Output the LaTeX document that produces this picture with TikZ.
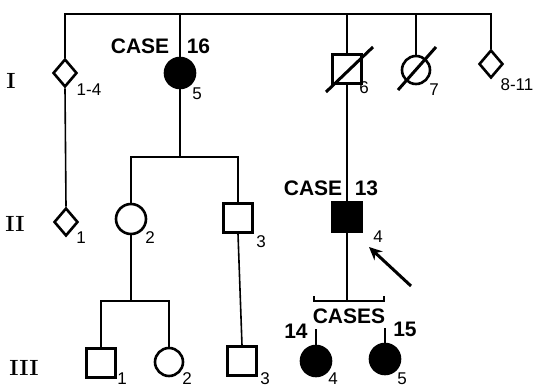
\documentclass[tikz,border=0pt]{standalone}
\usepackage{fontspec}
\newfontfamily\casefont{Liberation Sans}
\usetikzlibrary{shapes.geometric,arrows.meta}
\begin{document}
\begin{tikzpicture}[x=1pt,y=-1pt,
  line width=1.6pt,
  male/.style={draw,rectangle,minimum size=29pt,inner sep=0pt,line width=2.6pt},
  female/.style={draw,circle,minimum size=30pt,inner sep=0pt,line width=2.6pt},
  unk/.style={draw,diamond,minimum width=24pt,minimum height=28pt,inner sep=0pt,line width=2.6pt},
  aff/.style={fill=black},
  num/.style={font=\casefont\fontsize{17}{17}\selectfont,inner sep=0pt},
  gen/.style={font=\fontsize{22}{22}\selectfont\bfseries,inner sep=0pt},
  case/.style={font=\casefont\bfseries\fontsize{21}{21}\selectfont,inner sep=0pt}]
\useasboundingbox (0,0) rectangle (542,388);
\coordinate (bar) at (0,14);
\coordinate (sibA) at (0,157);
\coordinate (sibB) at (0,301);
% generation labels
\node[gen] (gI) at (11,81) {I};
\node[gen] (gII) at (15,224) {II};
\node[gen] (gIII) at (24,368) {III};
% generation I
\node[unk] (d14) at (65,73) {};
\node[female,aff] (c16) at (180,73) {};
\node[male] (s6) at (347,69) {};
\node[female,minimum size=28pt] (c7) at (416,70) {};
\node[unk] (d811) at (491,64) {};
% generation II
\node[unk] (d1) at (66,222) {};
\node[female] (c2) at (131,219) {};
\node[male] (s3) at (238,218) {};
\node[male,aff] (s13) at (347,217) {};
% generation III
\node[male] (t1) at (101,363) {};
\node[female,minimum size=28pt] (t2) at (169,362) {};
\node[male] (t3) at (242,361) {};
\node[female,aff] (t4) at (316,361) {};
\node[female,aff] (t5) at (385,359) {};
% top sibship
\draw (d14.north) -- (d14 |- bar) -- (d811 |- bar) -- (d811.north);
\draw (c16.north) -- (c16 |- bar);
\draw (s6.north) -- (s6 |- bar);
\draw (c7.north) -- (c7 |- bar);
\draw (d14.south) -- (d1.north);
% case 16 children
\draw (c16.south) -- (c16 |- sibA);
\draw (c2.north) -- (c2 |- sibA) -- (s3 |- sibA) -- (s3.north);
% II-2 children
\draw (c2.south) -- (c2 |- sibB);
\draw (t1.north) -- (t1 |- sibB) -- (t2 |- sibB) -- (t2.north);
\draw (s3.south) -- (t3.north);
% case 13
\draw (s6.south) -- (s13.north);
\coordinate (bl) at (314,301);
\coordinate (br) at (384,301);
\draw (s13.south) -- (s13 |- sibB);
\draw ([yshift=5pt]bl) -- (bl) -- (br) -- ([yshift=5pt]br);
\coordinate (t4top) at (316,329);
\coordinate (t5top) at (385,328);
\draw (t4top) -- (t4.north);
\draw (t5top) -- (t5.north);
% slashes
\coordinate (sa) at (326,92); \coordinate (sb) at (373,47);
\draw[line width=3pt] (sa) -- (sb);
\coordinate (sc) at (398,90); \coordinate (sd) at (436,47);
\draw[line width=3pt] (sc) -- (sd);
% arrow
\coordinate (aS) at (411,286); \coordinate (aE) at (369,247);
\draw[line width=3pt,-{Stealth[length=13pt,width=12pt]}] (aS) -- (aE);
% case labels
\node[case,anchor=east] (k16a) at (170,46) {CASE};
\node[case,anchor=west] (k16b) at (186,46) {16};
\node[case,anchor=east] (k13a) at (343,188) {CASE};
\node[case,anchor=west] (k13b) at (354,188) {13};
\node[case] (kcs) at (349,316) {CASES};
\node[case] (k14) at (296,331) {14};
\node[case] (k15) at (405,329) {15};
% numbers
\node[num] (n14) at (89,90) {1-4};
\node[num] (n5) at (197,94) {5};
\node[num] (n6) at (364,88) {6};
\node[num] (n7) at (434,90) {7};
\node[num] (n811) at (517,85) {8-11};
\node[num] (m1) at (81,238) {1};
\node[num] (m2) at (150,238) {2};
\node[num] (m3) at (261,242) {3};
\node[num] (m4) at (378,237) {4};
\node[num] (o1) at (122,379) {1};
\node[num] (o2) at (187,379) {2};
\node[num] (o3) at (265,379) {3};
\node[num] (o4) at (333,379) {4};
\node[num] (o5) at (402,379) {5};
\end{tikzpicture}
\end{document}
